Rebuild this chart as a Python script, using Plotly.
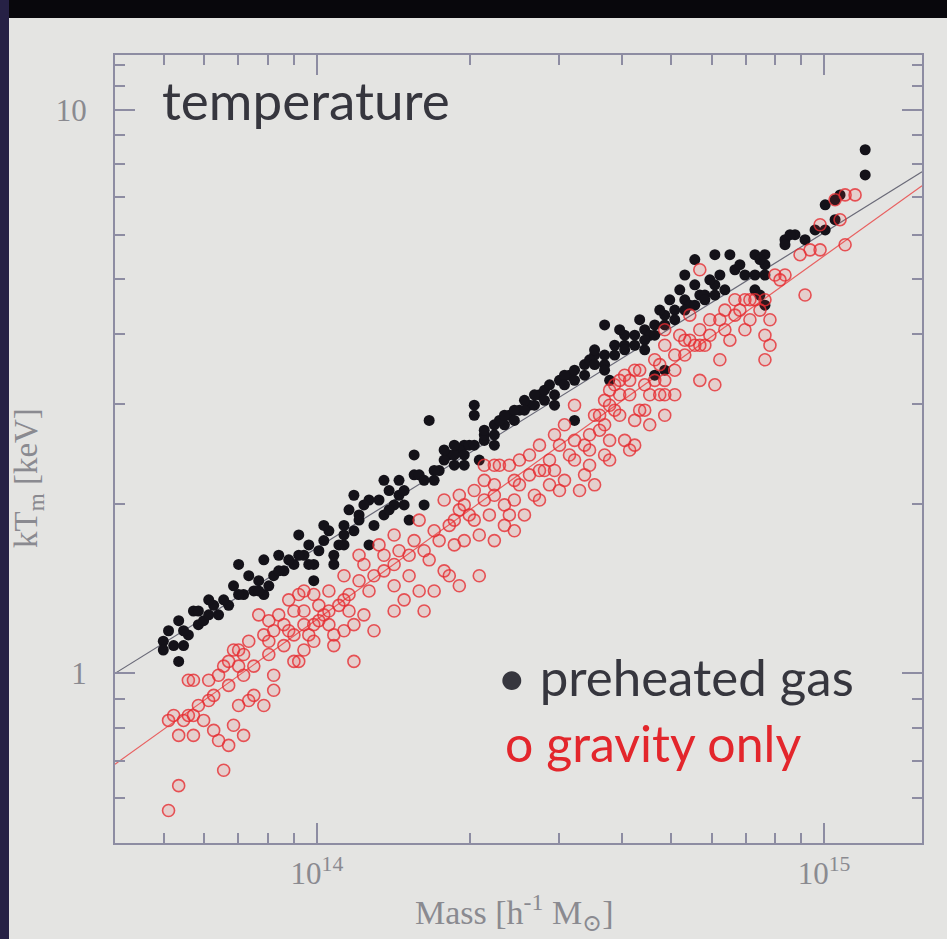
import plotly.graph_objects as go

# ---- data (mass in units of 1e14 h^-1 Msun, temperature in keV) ----
preheated_mass_1e14 = [
    0.498, 0.498, 0.534, 0.534, 0.546, 0.558, 0.571, 0.584, 0.598, 0.612,
    0.626, 0.640, 0.670, 0.685, 0.701, 0.717, 0.751, 0.768, 0.786, 0.786,
    0.822, 0.841, 0.861, 0.901, 0.921, 0.943, 0.964, 0.986, 1.032, 1.056,
    1.080, 1.105, 1.131, 0.510, 0.522, 0.546, 0.584, 0.612, 0.655, 0.734,
    0.804, 0.880, 1.009, 0.964, 0.986, 1.032, 1.080, 1.131, 1.183, 1.211,
    1.267, 1.267, 1.356, 1.356, 1.452, 1.486, 1.555, 1.555, 1.627, 1.665,
    1.703, 1.742, 1.824, 1.866, 1.952, 2.043, 2.043, 2.090, 2.138, 2.238,
    2.238, 1.520, 1.157, 1.238, 1.388, 1.420, 1.591, 1.782, 1.909, 1.326,
    1.866, 1.952, 1.997, 2.138, 2.238, 2.343, 2.396, 2.508, 2.625, 2.747,
    2.810, 2.941, 3.008, 3.148, 3.371, 3.528, 3.692, 3.692, 3.864, 4.044,
    4.232, 4.429, 4.429, 3.221, 3.528, 2.451, 2.566, 2.685, 2.875, 3.077,
    3.221, 3.448, 2.290, 3.953, 4.044, 4.635, 4.851, 5.076, 5.313, 5.560,
    5.313, 5.688, 5.819, 6.090, 6.230, 6.090, 6.520, 6.670, 6.373, 6.980,
    7.305, 7.305, 7.645, 7.645, 8.373, 8.763, 3.692, 3.777, 4.635, 4.851,
    4.329, 4.742, 4.962, 5.193, 5.560, 5.953, 4.531, 5.435, 6.823, 7.473,
    12.05, 12.05, 10.05, 10.51, 10.75, 10.51, 9.598, 10.05, 8.566, 8.373,
    9.171, 7.305, 7.473, 7.645, 7.645,
    1.183, 1.211, 1.296, 1.388, 1.452, 1.486, 1.627, 1.703, 1.782, 1.866,
    1.952, 2.043, 2.138, 2.343, 2.451, 2.566, 2.685, 2.810, 2.941, 3.077,
    3.221, 3.371, 3.528, 3.692, 3.864, 4.044, 4.232, 4.429, 4.635, 4.851,
    5.076, 5.313, 5.560, 5.819, 6.090, 1.131, 0.921, 0.841, 0.768, 0.701,
]
preheated_kT = [
    1.14, 1.10, 1.05, 1.24, 1.12, 1.17, 1.29, 1.22, 1.24, 1.27,
    1.32, 1.27, 1.32, 1.43, 1.56, 1.38, 1.40, 1.46, 1.59, 1.38,
    1.49, 1.62, 1.52, 1.56, 1.76, 1.62, 1.69, 1.56, 1.72, 1.79,
    1.56, 1.69, 1.83, 1.19, 1.12, 1.19, 1.29, 1.35, 1.35, 1.49,
    1.43, 1.59, 1.65, 1.56, 1.46, 1.83, 1.62, 1.76, 2.07, 1.91,
    1.69, 2.03, 1.91, 2.20, 2.07, 1.99, 2.25, 2.44, 1.99, 2.81,
    2.20, 2.29, 2.44, 2.34, 2.54, 2.99, 2.87, 2.39, 2.59, 2.76,
    2.54, 1.87, 1.95, 1.99, 2.11, 1.99, 2.25, 2.39, 2.49, 2.03,
    2.44, 2.34, 2.54, 2.65, 2.65, 2.76, 2.87, 2.93, 2.99, 3.12,
    3.18, 2.99, 3.31, 3.38, 3.53, 3.67, 3.53, 4.15, 3.82, 3.98,
    3.82, 4.07, 3.75, 2.81, 3.75, 2.93, 3.05, 3.12, 3.25, 3.38,
    3.45, 3.60, 2.81, 4.07, 3.82, 4.15, 4.32, 4.41, 5.09, 5.42,
    4.60, 4.69, 4.69, 5.53, 5.09, 4.89, 5.53, 5.20, 4.79, 5.09,
    5.53, 4.79, 5.53, 5.31, 5.88, 6.00, 3.45, 3.31, 3.38, 3.45,
    4.24, 4.41, 4.60, 4.79, 4.89, 4.99, 3.98, 4.50, 5.31, 5.42,
    8.49, 7.66, 6.78, 6.92, 7.06, 6.38, 6.12, 6.12, 6.00, 5.76,
    5.88, 5.09, 4.69, 4.50, 5.09,
    1.79, 1.87, 1.83, 1.95, 2.20, 2.11, 2.20, 2.29, 2.49, 2.54,
    2.44, 2.54, 2.70, 2.87, 2.81, 2.93, 2.99, 3.05, 3.12, 3.25,
    3.31, 3.38, 3.53, 3.67, 3.67, 3.75, 3.98, 3.90, 3.98, 4.15,
    4.24, 4.41, 4.50, 4.60, 4.69, 1.69, 1.62, 1.52, 1.40, 1.38,
]

gravity_mass_1e14 = [
    0.510, 0.534, 0.655, 0.510, 0.522, 0.546, 0.558, 0.571, 0.598, 0.534,
    0.571, 0.626, 0.670, 0.640, 0.685, 0.717, 0.734, 0.701, 0.558, 0.571,
    0.626, 0.612, 0.640, 0.655, 0.685, 0.701, 0.717, 0.701, 0.717, 0.751,
    0.768, 0.786, 0.804, 0.822, 0.861, 0.880, 0.901, 0.943, 0.861, 0.822,
    0.822, 0.901, 0.943, 0.986, 1.032, 1.056, 1.080, 1.131, 0.986, 0.921,
    1.056, 1.131, 0.751, 0.670, 1.183, 1.296, 1.420, 0.804, 0.841, 0.901,
    1.703, 1.627, 1.520, 1.420, 1.356, 1.296, 1.211, 1.157, 1.105, 1.056,
    1.009, 0.964, 1.080, 1.183, 1.238, 1.486, 1.627, 1.703, 1.909, 1.782,
    1.866, 1.952, 2.090, 2.188, 2.043, 1.909, 1.782, 2.238, 2.138, 2.238,
    1.420, 1.356, 1.238, 1.157, 1.009, 0.943, 0.943, 1.555, 1.742, 1.452,
    1.267, 1.591, 2.138, 2.290, 2.396, 2.238, 2.451, 2.625, 2.747, 2.941,
    3.077, 3.008, 2.875, 3.148, 3.371, 3.448, 3.528, 3.692, 3.864, 4.044,
    4.232, 4.429, 4.137, 3.864, 3.692, 4.044, 4.137, 3.692, 3.371, 3.528,
    3.077, 2.875, 2.685, 2.451, 2.343, 2.138, 1.997, 1.909, 1.866, 2.396,
    2.566, 3.448, 4.429, 3.221, 2.508, 2.810, 3.221, 3.609, 2.625, 3.777,
    3.953, 4.329, 4.531, 3.953, 3.777, 4.232, 3.777, 4.531, 4.851, 5.076,
    5.313, 5.560, 5.688, 5.819, 6.230, 6.373, 6.090, 6.670, 6.980, 7.305,
    7.473, 6.980, 7.645, 7.645, 8.001, 8.373, 5.435, 5.193, 4.851, 4.635,
    4.851, 5.688, 4.851, 4.232, 5.953, 5.435, 4.742, 6.520, 5.076, 11.51,
    11.00, 10.51, 10.75, 9.819, 11.00, 9.382, 9.819, 9.171, 8.185, 7.645,
    6.670, 6.373, 7.141, 7.821, 8.965, 7.821,
    1.131, 1.211, 1.326, 1.420, 1.520, 1.591, 1.665, 1.824, 1.952, 2.043,
    2.090, 2.238, 2.343, 2.508, 2.747, 2.941, 3.008, 3.221, 3.295, 3.448,
    3.609, 3.777, 3.953, 4.137, 4.329, 4.635, 4.742, 5.076, 5.313, 5.688,
    5.953, 6.230, 6.823, 7.141, 5.688, 4.851, 2.747, 2.451, 1.824, 0.880,
    0.804, 0.734, 0.670, 0.612, 0.584, 0.786, 0.921, 0.986,
]
gravity_kT = [
    0.571, 0.632, 0.673, 0.825, 0.842, 0.825, 0.842, 0.842, 0.825, 0.776,
    0.776, 0.792, 0.745, 0.760, 0.809, 0.776, 0.895, 0.877, 0.972, 0.972,
    0.914, 0.972, 0.992, 1.03, 1.10, 1.10, 1.08, 1.03, 0.992, 1.03,
    1.27, 1.17, 1.14, 1.19, 1.22, 1.19, 1.17, 1.22, 1.12, 0.992,
    0.933, 1.05, 1.10, 1.22, 1.27, 1.22, 1.12, 1.35, 1.38, 1.38,
    1.40, 1.19, 0.914, 0.952, 1.05, 1.19, 1.29, 1.08, 1.27, 1.29,
    1.79, 1.65, 1.62, 1.56, 1.52, 1.49, 1.46, 1.38, 1.32, 1.29,
    1.24, 1.17, 1.17, 1.22, 1.27, 1.35, 1.29, 1.40, 1.43, 1.52,
    1.69, 1.72, 1.76, 1.91, 1.87, 1.95, 2.03, 2.07, 2.20, 2.34,
    1.76, 1.62, 1.56, 1.29, 1.32, 1.40, 1.29, 1.72, 1.72, 1.65,
    1.40, 1.87, 2.34, 2.34, 2.34, 2.16, 2.20, 2.25, 2.54, 2.65,
    2.76, 2.54, 2.39, 2.44, 2.54, 2.65, 2.87, 3.05, 3.25, 3.38,
    3.45, 3.25, 3.12, 2.93, 2.76, 2.59, 2.49, 2.44, 2.25, 2.16,
    2.20, 2.16, 2.07, 2.03, 1.99, 2.03, 1.91, 2.07, 1.87, 1.91,
    1.91, 2.34, 2.93, 2.99, 2.39, 2.29, 2.59, 2.70, 2.44, 3.18,
    3.31, 2.93, 2.76, 2.87, 2.59, 2.54, 2.39, 3.12, 3.31, 3.45,
    3.67, 3.82, 4.07, 3.82, 3.60, 4.07, 3.25, 4.32, 4.60, 4.60,
    4.41, 4.07, 3.98, 3.60, 5.09, 5.09, 4.32, 3.98, 3.82, 3.60,
    4.07, 5.20, 2.87, 2.81, 4.24, 3.90, 3.12, 3.90, 3.12, 7.06,
    7.06, 6.92, 6.38, 6.25, 5.76, 5.64, 5.64, 4.69, 4.99, 4.60,
    4.60, 4.41, 4.24, 4.24, 5.53, 3.82,
    1.49, 1.62, 1.69, 1.43, 1.49, 1.40, 1.59, 1.83, 1.99, 2.11,
    1.49, 1.72, 1.83, 2.16, 2.29, 2.29, 2.11, 2.39, 2.11, 2.49,
    2.87, 2.99, 3.12, 3.31, 3.45, 3.31, 3.53, 3.67, 3.90, 3.82,
    3.98, 4.24, 4.41, 4.60, 3.31, 3.12, 2.03, 1.79, 1.49, 1.35,
    1.24, 1.14, 1.05, 0.895, 0.877, 0.877, 1.05, 1.14,
]

# fitted scaling relations (end points at the plot edges)
fit_mass_1e14 = [0.40, 15.6]
fit_kT_preheated = [1.00, 7.76]
fit_kT_gravity = [0.69, 7.33]

x_tickvals = [1e14, 1e15]
x_ticktext = ["10<sup>14</sup>", "10<sup>15</sup>"]
x_minor = [5e13, 6e13, 7e13, 8e13, 9e13] + [k * 1e14 for k in range(2, 10)]
y_tickvals = [1, 10]
y_ticktext = ["1", "10"]
y_minor = [0.6, 0.7, 0.8, 0.9, 2, 3, 4, 5, 6, 7, 8, 9, 11, 12]

# ---- figure ----
W, H = 947, 939
L, R, T, B = 115, 25, 55, 96
pw, ph = W - L - R, H - T - B

def px(x):
    return (x - L) / pw

def py(y):
    return (H - B - y) / ph

fig = go.Figure()
fig.add_trace(go.Scatter(
    x=[m * 1e14 for m in fit_mass_1e14], y=fit_kT_preheated, mode="lines",
    line=dict(color="#6a6a78", width=1.2), showlegend=False, hoverinfo="skip"))
fig.add_trace(go.Scatter(
    x=[m * 1e14 for m in fit_mass_1e14], y=fit_kT_gravity, mode="lines",
    line=dict(color="#e86060", width=1.2), showlegend=False, hoverinfo="skip"))
fig.add_trace(go.Scatter(
    x=[m * 1e14 for m in preheated_mass_1e14], y=preheated_kT, mode="markers",
    marker=dict(symbol="circle", size=11, color="#141219",
                line=dict(width=0)),
    name="preheated gas", showlegend=False))
fig.add_trace(go.Scatter(
    x=[m * 1e14 for m in gravity_mass_1e14], y=gravity_kT, mode="markers",
    marker=dict(symbol="circle", size=12, color="rgba(240,70,70,0.13)",
                line=dict(width=1.6, color="rgba(230,45,50,0.8)")),
    name="gravity only", showlegend=False))

axis_col = "#8d8ca2"
serif = "Liberation Serif, DejaVu Serif, serif"
tick_font = dict(family=serif, size=31, color="#8a8a90")

fig.update_xaxes(
    type="log", range=[13.602, 15.193],
    tickmode="array", tickvals=x_tickvals, ticktext=x_ticktext,
    ticks="inside", ticklen=20, tickwidth=1.5, tickcolor=axis_col,
    minor=dict(tickmode="array", tickvals=x_minor, ticks="inside",
               ticklen=10, tickwidth=1.5, tickcolor=axis_col, showgrid=False),
    showline=True, linecolor=axis_col, linewidth=2, mirror="ticks",
    showgrid=False, zeroline=False, tickfont=tick_font, ticklabelstandoff=2,
)
fig.update_yaxes(
    type="log", range=[-0.301, 1.097],
    tickmode="array", tickvals=y_tickvals, ticktext=y_ticktext,
    ticks="inside", ticklen=20, tickwidth=1.5, tickcolor=axis_col,
    minor=dict(tickmode="array", tickvals=y_minor, ticks="inside",
               ticklen=10, tickwidth=1.5, tickcolor=axis_col, showgrid=False),
    showline=True, linecolor=axis_col, linewidth=2, mirror="ticks",
    showgrid=False, zeroline=False, tickfont=tick_font, ticklabelstandoff=20,
)

sans = "Lato, Open Sans, sans-serif"
annotations = [
    dict(text="temperature", x=px(160), y=py(100), xanchor="left", yanchor="middle",
         font=dict(family=sans, size=53, color="#36363e"), showarrow=False),
    dict(text="• preheated gas", x=px(495), y=py(676), xanchor="left", yanchor="middle",
         font=dict(family=sans, size=51, color="#36363e"), showarrow=False),
    dict(text="o gravity only", x=px(503), y=py(743), xanchor="left", yanchor="middle",
         font=dict(family=sans, size=50, color="#e3262c"), showarrow=False),
    dict(text="Mass [h<sup>-1</sup> M<sub>⊙</sub>]", x=px(514), y=py(912),
         xanchor="center", yanchor="middle",
         font=dict(family=serif, size=34, color="#8a8a90"),
         showarrow=False),
    dict(text="kT<sub>m</sub> [keV]", x=px(28), y=py(478), textangle=-90,
         xanchor="center", yanchor="middle",
         font=dict(family=serif, size=33, color="#8a8a90"),
         showarrow=False),
]
for a in annotations:
    a["xref"] = "paper"
    a["yref"] = "paper"

shapes = [
    # dark frame of the projected slide (top and left edges)
    dict(type="rect", xref="paper", yref="paper", x0=px(0), x1=px(W), y0=py(18), y1=py(0),
         fillcolor="#08070c", line=dict(width=0), layer="above"),
    dict(type="rect", xref="paper", yref="paper", x0=px(0), x1=px(9), y0=py(H), y1=py(0),
         fillcolor="#262145", line=dict(width=0), layer="above"),
]

fig.update_layout(
    width=W, height=H,
    margin=dict(l=L, r=R, t=T, b=B),
    paper_bgcolor="#e4e4e2", plot_bgcolor="#e4e4e2",
    annotations=annotations, shapes=shapes,
    showlegend=False,
)

fig.write_html("out.html")
